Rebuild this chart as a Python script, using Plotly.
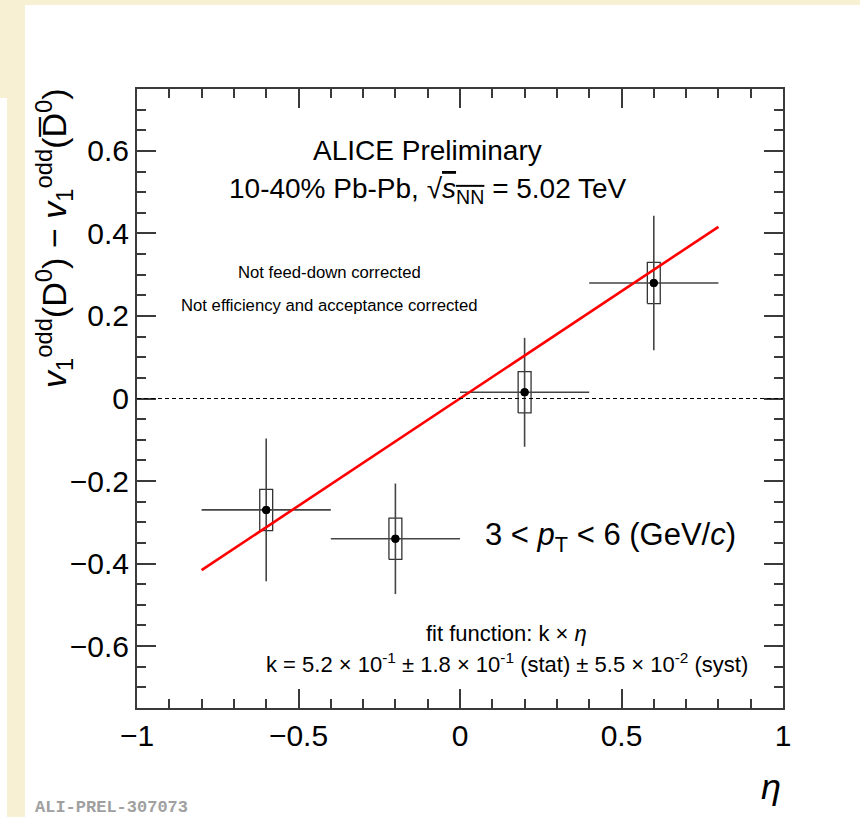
import plotly.graph_objects as go

# D0 - D0bar directed-flow difference vs pseudorapidity
eta = [-0.6, -0.2, 0.2, 0.6]
eta_halfwidth = [0.2, 0.2, 0.2, 0.2]
dv1 = [-0.27, -0.34, 0.015, 0.28]
stat_err = [0.173, 0.134, 0.132, 0.163]
syst_err = [0.05, 0.05, 0.05, 0.05]

# linear fit k * eta
k_fit = 0.52
fit_eta = [-0.8, 0.8]

x_ticks = [-1, -0.5, 0, 0.5, 1]
y_ticks = [-0.6, -0.4, -0.2, 0, 0.2, 0.4, 0.6]

FONT = "Liberation Sans, Arial, Helvetica, sans-serif"
BEIGE = "#f8f0d2"
AX = "#3a3a3a"

W, H = 860, 817
L, R, T, B = 137, 77, 89, 109
PW, PH = W - L - R, H - T - B


def px(xp):
    return (xp - L) / PW


def py(yp):
    return (H - B - yp) / PH


fig = go.Figure()

# systematic uncertainty boxes
bx, by = [], []
box_hw = 0.02
for x, y, s in zip(eta, dv1, syst_err):
    bx += [x - box_hw, x + box_hw, x + box_hw, x - box_hw, x - box_hw, None]
    by += [y - s, y - s, y + s, y + s, y - s, None]
fig.add_trace(go.Scatter(x=bx, y=by, mode="lines",
                         line=dict(color="#333333", width=1.3),
                         hoverinfo="skip", showlegend=False))

# statistical errors and points
fig.add_trace(go.Scatter(
    x=eta, y=dv1, mode="markers",
    marker=dict(color="black", size=8, symbol="circle"),
    error_x=dict(type="data", array=eta_halfwidth, color="#444444", thickness=1.6, width=0),
    error_y=dict(type="data", array=stat_err, color="#444444", thickness=1.6, width=0),
    showlegend=False))

# fit line
fig.add_trace(go.Scatter(x=fit_eta, y=[k_fit * e for e in fit_eta], mode="lines",
                         line=dict(color="#ff0000", width=2.6), showlegend=False))

# redraw markers on top of the fit line
fig.add_trace(go.Scatter(x=eta, y=dv1, mode="markers",
                         marker=dict(color="black", size=8), showlegend=False,
                         hoverinfo="skip"))

shapes = [
    # page background panels
    dict(type="rect", xref="paper", yref="paper", layer="below",
         x0=px(25), x1=px(W + 5), y0=py(H + 5), y1=py(5),
         fillcolor="white", line=dict(width=0)),
    dict(type="rect", xref="paper", yref="paper", layer="below",
         x0=px(-5), x1=px(7), y0=py(H + 5), y1=py(98),
         fillcolor="white", line=dict(width=0)),
    # zero reference line
    dict(type="line", xref="paper", yref="y", x0=0, x1=1, y0=0, y1=0,
         line=dict(color="black", width=1.2, dash="4px,3px")),
]

ann = []


def add_text(text, xpix, ypix, size, xanchor="center", color="black", family=FONT, angle=0):
    ann.append(dict(text=text, x=px(xpix), y=py(ypix), xref="paper", yref="paper",
                    xanchor=xanchor, yanchor="middle", showarrow=False, textangle=angle,
                    font=dict(size=size, color=color, family=family)))


add_text("ALICE Preliminary", 427, 150, 28)
add_text("10-40% Pb-Pb, √<span style='text-decoration:overline'><i>s</i><sub>NN</sub></span> = 5.02 TeV",
         428, 190, 28)
add_text("Not feed-down corrected", 329, 272, 16.7)
add_text("Not efficiency and acceptance corrected", 329, 305, 16.7)
add_text("3 &lt; <i>p</i><sub>T</sub> &lt; 6 (GeV/<i>c</i>)", 610, 537, 31)
add_text("fit function: k × <i>η</i>", 507, 633, 22)
add_text("k = 5.2 × 10<sup>-1</sup> ± 1.8 × 10<sup>-1</sup> (stat) ± 5.5 × 10<sup>-2</sup> (syst)",
         507, 663, 22)
add_text("<i>η</i>", 771, 786, 36)
add_text("<i>v</i><sub>1</sub><sup>odd</sup>(D<sup>0</sup>) − <i>v</i><sub>1</sub><sup>odd</sup>(D\u0305<sup>0</sup>)",
         54, 238, 34, angle=-90)
add_text("<b>ALI-PREL-307073</b>", 33, 807, 17, xanchor="left", color="#a0a0a0",
         family="Liberation Mono, Courier New, monospace")

axis_common = dict(
    showline=True, linecolor=AX, linewidth=2, mirror="ticks",
    ticks="inside", ticklen=19, tickwidth=1.6, tickcolor=AX,
    showgrid=False, zeroline=False,
    tickfont=dict(size=30, family=FONT, color="black"),
)

fig.update_xaxes(range=[-1, 1], tickvals=x_ticks,
                 ticktext=[("−" if v < 0 else "") + f"{abs(v):g}" for v in x_ticks],
                 minor=dict(dtick=0.1, ticklen=9, tickwidth=1.6, tickcolor=AX, ticks="inside"),
                 **axis_common)
fig.update_yaxes(range=[-0.75, 0.75], tickvals=y_ticks,
                 ticktext=[("−" if v < 0 else "") + f"{abs(v):g}" for v in y_ticks],
                 minor=dict(dtick=0.05, tick0=0, ticklen=9, tickwidth=1.6, tickcolor=AX, ticks="inside"),
                 **axis_common)

fig.update_layout(
    width=W, height=H,
    margin=dict(l=L, r=R, t=T, b=B),
    paper_bgcolor=BEIGE, plot_bgcolor="white",
    shapes=shapes, annotations=ann,
    font=dict(family=FONT),
    showlegend=False,
)

fig.write_html("out.html")
